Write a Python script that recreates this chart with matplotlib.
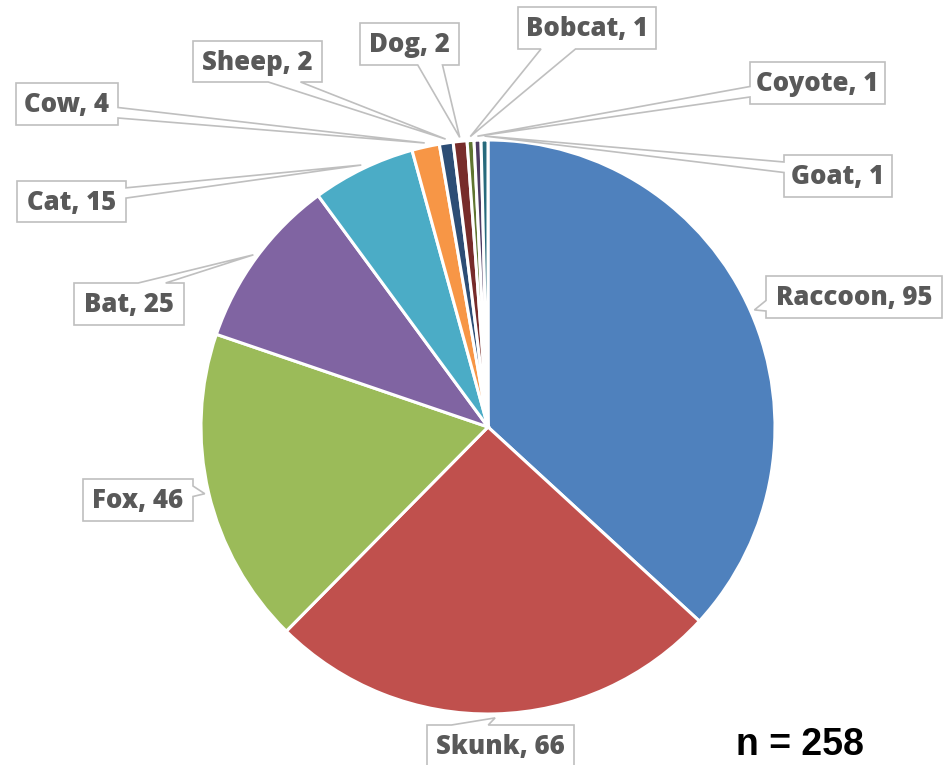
import matplotlib
matplotlib.use("Agg")
import matplotlib.pyplot as plt
from matplotlib.patches import Polygon
import numpy as np

# ---- data ----
labels = ['Raccoon', 'Skunk', 'Fox', 'Bat', 'Cat', 'Cow', 'Sheep', 'Dog',
          'Bobcat', 'Coyote', 'Goat']
values = [95, 66, 46, 25, 15, 4, 2, 2, 1, 1, 1]
colors = ['#4F81BD', '#C0504D', '#9BBB59', '#8064A2', '#4BACC6', '#F79646',
          '#2C4D75', '#772C2A', '#5F7530', '#4D3B62', '#276A7C']
n_total = 258

# ---- layout (pixel coords, y down): label boxes (left, top, right, bottom) ----
boxes = [(766, 276, 942, 318),   # Raccoon
         (427, 725, 574, 767),   # Skunk
         (83, 479, 193, 521),    # Fox
         (74, 283, 184, 325),    # Bat
         (17, 181, 126, 222),    # Cat
         (16, 83, 118, 125),     # Cow
         (193, 41, 322, 82),     # Sheep
         (360, 23, 459, 65),     # Dog
         (518, 7, 656, 49),      # Bobcat
         (750, 62, 885, 104),    # Coyote
         (784, 155, 892, 197)]   # Goat

W, H = 948, 765
CX, CY, R = 488, 427, 287

fig = plt.figure(figsize=(W / 100, H / 100), dpi=100)
ax = fig.add_axes([0, 0, 1, 1])
ax.set_xlim(0, W)
ax.set_ylim(H, 0)
ax.set_aspect('equal')
ax.axis('off')

wedges, _ = ax.pie(values, colors=colors, center=(CX, CY), radius=R,
                   startangle=-90, counterclock=True,
                   wedgeprops=dict(edgecolor='white', linewidth=2.2))
ax.set_xlim(0, W)
ax.set_ylim(H, 0)


def callout_path(l, t, r, b, px, py):
    w, h = r - l, b - t
    hc, vc = (l + r) / 2, (t + b) / 2
    dxp, dyp = px - hc, py - vc
    dq = dxp * h / w
    dz = abs(dyp) - abs(dq)
    xg1, xg2 = (7, 10) if dxp > 0 else (2, 5)
    yg1, yg2 = (7, 10) if dyp > 0 else (2, 5)
    x1, x2 = l + w * xg1 / 12, l + w * xg2 / 12
    y1, y2 = t + h * yg1 / 12, t + h * yg2 / 12
    xl = l if dz > 0 else (l if dxp > 0 else px)
    xt = (x1 if dyp > 0 else px) if dz > 0 else x1
    xr = r if dz > 0 else (px if dxp > 0 else r)
    xb = (px if dyp > 0 else x1) if dz > 0 else x1
    yl = y1 if dz > 0 else (y1 if dxp > 0 else py)
    yt = (t if dyp > 0 else py) if dz > 0 else t
    yr = y1 if dz > 0 else (py if dxp > 0 else y1)
    yb = (py if dyp > 0 else b) if dz > 0 else b
    return [(l, t), (x1, t), (xt, yt), (x2, t), (r, t), (r, y1), (xr, yr),
            (r, y2), (r, b), (x2, b), (xb, yb), (x1, b), (l, b), (l, y2),
            (xl, yl), (l, y1)]


for wdg, lab, val, box in zip(wedges, labels, values, boxes):
    mid = np.deg2rad((wdg.theta1 + wdg.theta2) / 2)
    rr = R + 4
    px = CX + rr * np.cos(mid)
    py = CY + rr * np.sin(mid)
    l, t, r, b = box
    poly = Polygon(callout_path(l, t, r, b, px, py), closed=True,
                   facecolor='white', edgecolor='#BFBFBF', linewidth=1.2,
                   zorder=5)
    ax.add_patch(poly)
    ax.text((l + r) / 2, (t + b) / 2 + 1, f'{lab}, {val}', ha='center',
            va='center', fontsize=18.5, fontweight='heavy', color='#595959',
            family=['Open Sans', 'DejaVu Sans'], zorder=6)

ax.text(736, 755, f'n = {n_total}', ha='left', va='baseline', fontsize=27,
        fontweight='bold', color='black',
        family=['Liberation Sans', 'DejaVu Sans'])

fig.savefig('out.png', dpi=100)
